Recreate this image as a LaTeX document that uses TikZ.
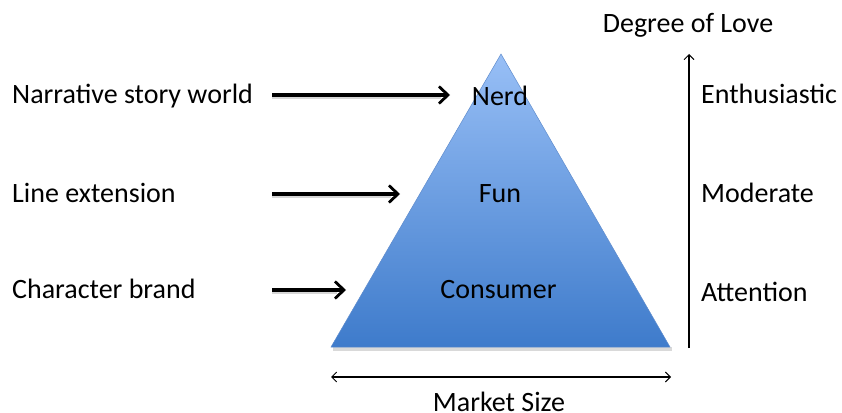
\documentclass[tikz,border=0pt]{standalone}
\usepackage{fontspec}
\setmainfont{Carlito}
\usetikzlibrary{arrows.meta}
\definecolor{pyrtop}{RGB}{152,191,246}
\definecolor{pyrbot}{RGB}{62,123,203}
\definecolor{pyredge}{RGB}{95,140,205}
\tikzset{
  lbl/.style={inner sep=0pt, font=\fontsize{28}{33}\selectfont},
  bigarrow/.style={line width=3.3pt, -{Straight Barb[length=9pt,width=17pt,line width=2.8pt]}},
  bigshadow/.style={line width=3.3pt, draw=black!16},
  thinarrow/.style={line width=1.1pt, -{Straight Barb[length=5pt,width=10pt,line width=0.9pt]}},
  dblarrow/.style={line width=1.1pt, {Straight Barb[length=5pt,width=10pt,line width=0.9pt]}-{Straight Barb[length=5pt,width=10pt,line width=0.9pt]}}
}
\begin{document}
\begin{tikzpicture}[x=1pt,y=-1pt]
\useasboundingbox (0,0) rectangle (842,412);

% pyramid with its soft shadow at the base
\fill[black!15] (333,347) rectangle (672,351);
\shade[top color=pyrtop, bottom color=pyrbot, draw=pyredge, line width=0.5pt]
  (501,54) -- (670,347) -- (331,347) -- cycle;

% tier labels inside the pyramid
\node[lbl, anchor=base] (nerd) at (500,105) {Nerd};
\node[lbl, anchor=base] (fun) at (500,202.5) {Fun};
\node[lbl, anchor=base] (consumer) at (498.5,298.5) {Consumer};

% product strategies on the left
\node[lbl, anchor=base west] (story) at (12,103) {Narrative story world};
\node[lbl, anchor=base west] (line) at (12,202) {Line extension};
\node[lbl, anchor=base west] (brand) at (12,298.5) {Character brand};

% arrow end points
\coordinate (s1) at (272,95);   \coordinate (e1) at (450,95);
\coordinate (s2) at (272,194);  \coordinate (e2) at (400,194);
\coordinate (s3) at (272,290);  \coordinate (e3) at (346,290);

\draw[bigshadow] ([yshift=-2.5pt]s1) -- ([yshift=-2.5pt,xshift=-9pt]e1);
\draw[bigshadow] ([yshift=-2.5pt]s2) -- ([yshift=-2.5pt,xshift=-9pt]e2);
\draw[bigshadow] ([yshift=-2.5pt]s3) -- ([yshift=-2.5pt,xshift=-9pt]e3);
\draw[bigarrow] (s1) -- (e1);
\draw[bigarrow] (s2) -- (e2);
\draw[bigarrow] (s3) -- (e3);

% degree-of-love axis
\coordinate (lovebot) at (689,348);
\coordinate (lovetop) at (689,54);
\draw[thinarrow] (lovebot) -- (lovetop);
\node[lbl, anchor=base] (love) at (688,33) {Degree of Love};
\node[lbl, anchor=base west] (enth) at (701,103) {Enthusiastic};
\node[lbl, anchor=base west] (mod) at (701,202) {Moderate};
\node[lbl, anchor=base west] (att) at (701,301) {Attention};

% market-size axis
\coordinate (mleft) at (331,377);
\coordinate (mright) at (671,377);
\draw[dblarrow] (mleft) -- (mright);
\node[lbl, anchor=base] (market) at (499,411) {Market Size};
\end{tikzpicture}
\end{document}
